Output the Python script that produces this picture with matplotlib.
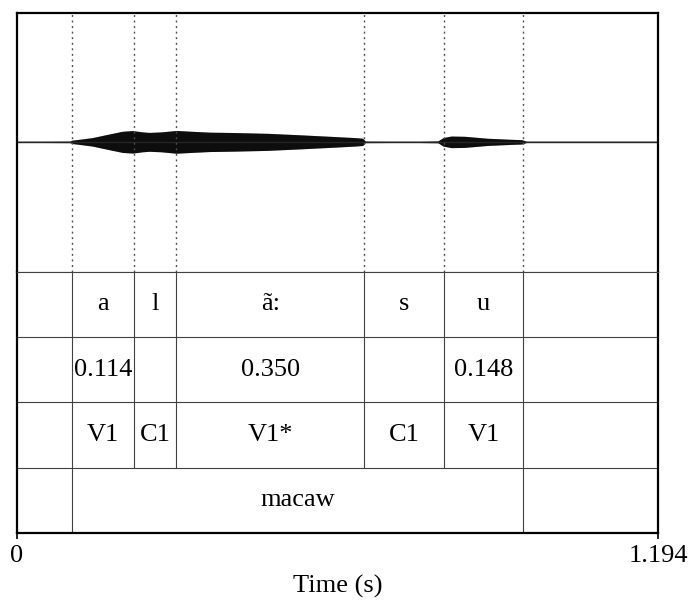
import matplotlib
matplotlib.use('Agg')
import matplotlib.pyplot as plt

plt.rcParams['font.family'] = ['Liberation Serif', 'DejaVu Serif']
plt.rcParams['hatch.linewidth'] = 0.7

# data
duration = 1.194
bounds = [0.1035, 0.2175, 0.2975, 0.6475, 0.7955, 0.9435]
phones = ['', 'a', 'l', 'ã:', 's', 'u', '']
durs = ['', '0.114', '', '0.350', '', '0.148', '']
slots = ['', 'V1', 'C1', 'V1*', 'C1', 'V1', '']
word_bounds = [0.1035, 0.9435]
words = ['', 'macaw', '']

# waveform envelope (fraction of full scale)
env_t = [0.000, 0.050, 0.100, 0.104, 0.120, 0.142, 0.170, 0.198, 0.217,
         0.235, 0.248, 0.270, 0.298, 0.330, 0.360, 0.406, 0.468, 0.531,
         0.593, 0.630, 0.645, 0.650, 0.700, 0.750, 0.785, 0.795, 0.810,
         0.835, 0.877, 0.920, 0.941, 0.950, 1.000, 1.100, 1.194]
env_amp = [0.005, 0.005, 0.006, 0.013, 0.021, 0.033, 0.058, 0.082, 0.087,
           0.077, 0.073, 0.077, 0.088, 0.081, 0.075, 0.072, 0.066, 0.054,
           0.041, 0.033, 0.028, 0.006, 0.005, 0.005, 0.007, 0.033, 0.045,
           0.043, 0.028, 0.020, 0.017, 0.005, 0.005, 0.005, 0.005]

fig = plt.figure(figsize=(6.91, 6.02), dpi=100)
L, W = 16.7/691, (658-16.7)/691
ax_w = fig.add_axes([L, 1-271.7/602, W, (271.7-13)/602])
ax_t = fig.add_axes([L, 1-533/602, W, (533-271.7)/602])

# waveform
ax_w.fill_between(env_t, [-a for a in env_amp], env_amp, facecolor='0.8',
                  edgecolor='0.05', hatch='|'*24, linewidth=0.0)
ax_w.plot([0, duration], [0, 0], color='0.15', lw=1.0)
for b in bounds:
    ax_w.axvline(b, color='0.3', lw=1.0, linestyle=(0, (1.4, 2.6)))
ax_w.set_xlim(0, duration)
ax_w.set_ylim(-1, 1)
ax_w.set_xticks([])
ax_w.set_yticks([])
for s in ['top', 'left', 'right']:
    ax_w.spines[s].set_linewidth(1.6)
ax_w.spines['bottom'].set_linewidth(0.8)
ax_w.spines['bottom'].set_color('0.25')

# tiers
tiers = [(bounds, phones), (bounds, durs), (bounds, slots), (word_bounds, words)]
for i, (bs, labels) in enumerate(tiers):
    y0 = 3 - i
    edges = [0] + bs + [duration]
    ax_t.vlines(bs, y0, y0 + 1, color='0.25', lw=0.8)
    for k, lab in enumerate(labels):
        if lab:
            ax_t.text((edges[k] + edges[k+1]) / 2, y0 + 0.5, lab,
                      ha='center', va='center', fontsize=19)
for y in [1, 2, 3]:
    ax_t.axhline(y, color='0.25', lw=0.8)
ax_t.set_xlim(0, duration)
ax_t.set_ylim(0, 4)
ax_t.set_yticks([])
ax_t.set_xticks([0, duration])
ax_t.set_xticklabels(['0', '1.194'], fontsize=19)
ax_t.tick_params(axis='x', direction='out', length=4.5, width=1.2, pad=4.5)
ax_t.set_xlabel('Time (s)', fontsize=19, labelpad=5)
for s in ['bottom', 'left', 'right']:
    ax_t.spines[s].set_linewidth(1.6)
ax_t.spines['top'].set_linewidth(0.8)
ax_t.spines['top'].set_color('0.25')

fig.savefig('out.png', dpi=100)
